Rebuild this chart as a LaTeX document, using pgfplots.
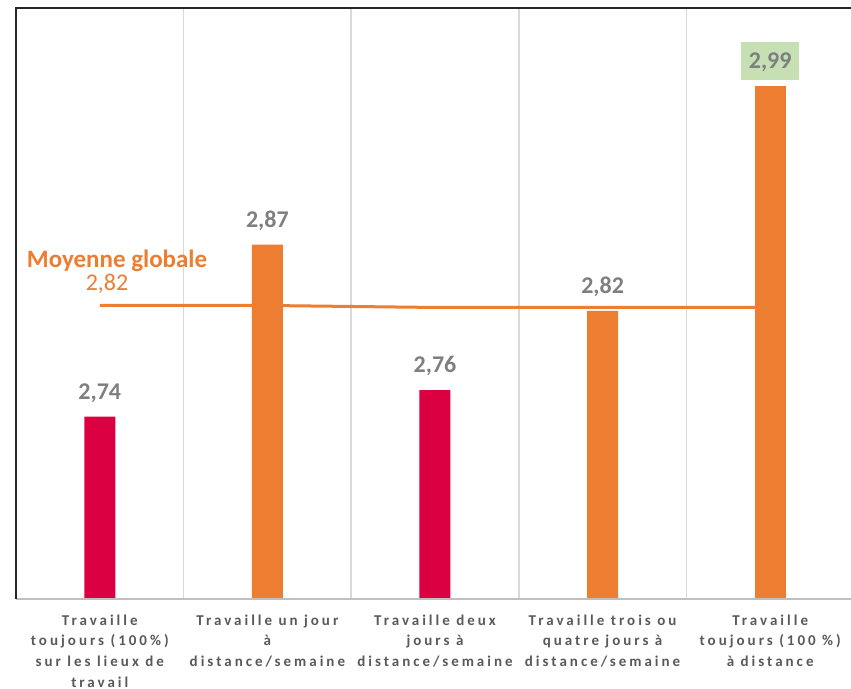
\documentclass[border=0pt]{standalone}
\usepackage{fontspec}
\setmainfont{Carlito}
\newfontfamily\spaced[LetterSpace=20]{Carlito}
\usepackage{pgfplots}
\pgfplotsset{compat=1.18}

\definecolor{barred}{HTML}{DA0041}
\definecolor{barorange}{HTML}{ED7D31}
\definecolor{labelgray}{HTML}{7F7F7F}
\definecolor{tickgray}{HTML}{595959}
\definecolor{gridgray}{HTML}{D9D9D9}
\definecolor{hlgreen}{HTML}{C6E0B4}
\definecolor{framedark}{HTML}{262626}
\definecolor{basegray}{HTML}{BFBFBF}

\begin{document}
\begin{tikzpicture}
\useasboundingbox (-12pt,-67.5pt) rectangle (626.25pt,449.25pt);
\begin{axis}[
  name=ax,
  scale only axis,
  width=628.5pt, height=443.25pt,
  xmin=-0.5, xmax=4.5,
  ymin=2.602, ymax=3.049,
  axis line style={draw=none},
  ytick=\empty,
  xtick={0,1,2,3,4},
  xticklabels={
    {Travaille\\toujours (100\%)\\sur les lieux de\\travail},
    {Travaille un jour\\à\\distance/semaine},
    {Travaille deux\\jours à\\distance/semaine},
    {Travaille trois ou\\quatre jours à\\distance/semaine},
    {Travaille\\toujours (100 \%)\\à distance}},
  major tick length=0pt,
  minor xtick={0.5,1.5,2.5,3.5},
  minor tick length=0pt,
  xminorgrids,
  minor grid style={gridgray, line width=1.1pt},
  xticklabel style={align=center, inner sep=0pt, anchor=north, yshift=-11.5pt,
    font=\fontsize{11.25pt}{15.6pt}\selectfont\spaced\bfseries, text=tickgray},
  bar width=23.25pt,
  /pgf/number format/use comma,
  /pgf/number format/fixed,
  /pgf/number format/fixed zerofill,
  /pgf/number format/precision=2,
  /pgf/number format/assume math mode=true,
  every node near coord/.append style={
    font=\fontsize{18pt}{18pt}\selectfont\bfseries, text=labelgray,
    anchor=south, yshift=4.5pt, inner xsep=5.6pt, inner ysep=8.25pt,
    text height=12pt, text depth=0pt},
]
% overall mean, drawn first so the bars sit on top of it
\addplot[barorange, line width=2.25pt] coordinates
  {(0,2.824) (1,2.824) (2,2.8225) (3,2.8225) (4,2.8225)};

% on-site and two-day groups
\addplot[ybar, bar shift=0pt, fill=barred, draw=none, nodes near coords] coordinates
  {(0,2.74) (2,2.76)};

% one-day and three/four-day groups
\addplot[ybar, bar shift=0pt, fill=barorange, draw=none, nodes near coords] coordinates
  {(1,2.87) (3,2.82)};

% fully remote, highlighted value
\addplot[ybar, bar shift=0pt, fill=barorange, draw=none, nodes near coords,
  every node near coord/.append style={fill=hlgreen}] coordinates
  {(4,2.99)};

\node[anchor=base, text=barorange, font=\fontsize{18.75pt}{18.75pt}\selectfont\bfseries]
  at (axis cs:0.103,2.8525) {Moyenne globale};
\node[anchor=base, text=barorange, font=\fontsize{18pt}{18pt}\selectfont]
  at (axis cs:0.043,2.8355) {2,82};
\end{axis}
\draw[basegray, line width=1.5pt] (ax.south west) -- (ax.south east);
\draw[framedark, line width=1.5pt] (ax.south west) -- (ax.north west) -- (ax.north east);
\end{tikzpicture}
\end{document}
